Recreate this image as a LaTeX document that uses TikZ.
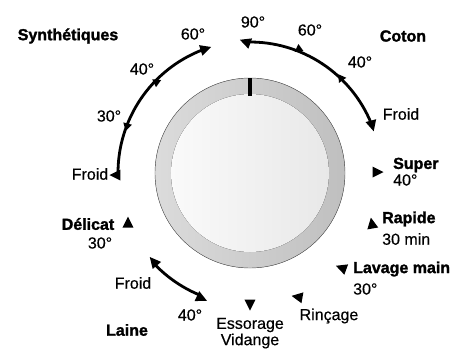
\documentclass[tikz,border=0pt]{standalone}
\usepackage{fontspec}
\setmainfont{Liberation Sans}
\usetikzlibrary{positioning}

\tikzset{
  mark/.pic={\fill (6.5,0) -- (-4.5,5.5) -- (-4.5,-5.5) -- cycle;},
  tickmark/.pic={\fill (7.5,0) -- (0,4.5) -- (0,-4.5) -- cycle;},
}

\begin{document}
\begin{tikzpicture}[
    x=1pt, y=1pt,
    every node/.style={inner sep=0pt, font=\fontsize{16}{16}\selectfont\addfontfeature{FakeBold=0.4}},
    lab/.style={},
    prog/.style={font=\fontsize{16}{16}\selectfont\bfseries\addfontfeature{FakeBold=1.6}},
    dialarc/.style={line width=2.8pt},
    ]
  \useasboundingbox (-250,-176) rectangle (200,173);

  % dial
  \fill[left color=gray!28, right color=gray!50, draw=gray!70!black, thin] (0,0) circle[radius=95pt];
  \fill[left color=gray!4, right color=gray!18] (0,0) circle[radius=79pt];
  \fill[black] (-1.8,77.5) rectangle (1.8,95);

  % synthetiques scale
  \coordinate (s60) at (111:132);
  \draw[dialarc] (s60) arc[start angle=111, end angle=181, radius=132pt];
  \pic[rotate=18] (ts60) at (-45,124) {mark};
  \pic[rotate=-95] (ts40) at (135:132) {tickmark};
  \pic[rotate=-105] (ts30) at (158:132) {tickmark};
  \pic[rotate=180] (tsF) at (-134,-2) {mark};

  % coton scale
  \coordinate (c90) at (91:131);
  \draw[dialarc] (c90) arc[start angle=91, end angle=22, radius=131pt];
  \pic[rotate=160] (tc90) at (-4,131) {mark};
  \pic[rotate=95] (tc60) at (68:131) {tickmark};
  \pic[rotate=125] (tc40) at (45:131) {tickmark};
  \pic[rotate=-75] (tcF) at (122,48) {mark};

  % laine scale
  \coordinate (l0) at (224:132);
  \draw[dialarc] (l0) arc[start angle=224, end angle=248, radius=132pt];
  \pic[rotate=130] (tlF) at (-96,-89) {mark};
  \pic[rotate=-25] (tl40) at (-49,-125) {mark};

  % program marks
  \pic[rotate=0] (tsup) at (127,1) {mark};
  \pic[rotate=100] (trap) at (122,-51) {mark};
  \pic[rotate=160] (tlav) at (92,-95) {mark};
  \pic[rotate=170] (trin) at (48,-124) {mark};
  \pic[rotate=-90] (tess) at (0,-131) {mark};
  \pic[rotate=90] (tdel) at (-122,-50) {mark};

  % labels
  \node[prog] (synth) at (-182,137) {Synthétiques};
  \node[lab] (ls60) at (-57,139) {60°};
  \node[lab] (ls40) at (-108,104) {40°};
  \node[lab] (ls30) at (-141,57) {30°};
  \node[lab] (lsF) at (-160,-1) {Froid};

  \node[lab] (lc90) at (3,151) {90°};
  \node[lab] (lc60) at (60,143) {60°};
  \node[prog] (coton) at (153,137) {Coton};
  \node[lab] (lc40) at (110,111) {40°};
  \node[lab] (lcF) at (151,59) {Froid};

  \node[prog, anchor=west] (super) at (143,8) {Super};
  \node[lab, anchor=west] (super2) at (143,-7) {40°};
  \node[prog, anchor=west] (rapide) at (132,-46) {Rapide};
  \node[lab, anchor=west] (rapide2) at (132,-66) {30 min};
  \node[prog, anchor=west] (lavage) at (103,-96) {Lavage main};
  \node[lab, anchor=west] (lavage2) at (103,-116) {30°};
  \node[lab] (rincage) at (79,-143) {Rinçage};
  \node[lab] (essorage) at (0,-152) {Essorage};
  \node[lab] (vidange) at (0,-168) {Vidange};

  \node[prog] (delicat) at (-162,-51) {Délicat};
  \node[lab] (delicat2) at (-150,-70) {30°};
  \node[lab] (llF) at (-117,-110) {Froid};
  \node[lab] (ll40) at (-60,-142) {40°};
  \node[prog] (laine) at (-123,-157) {Laine};
\end{tikzpicture}
\end{document}
